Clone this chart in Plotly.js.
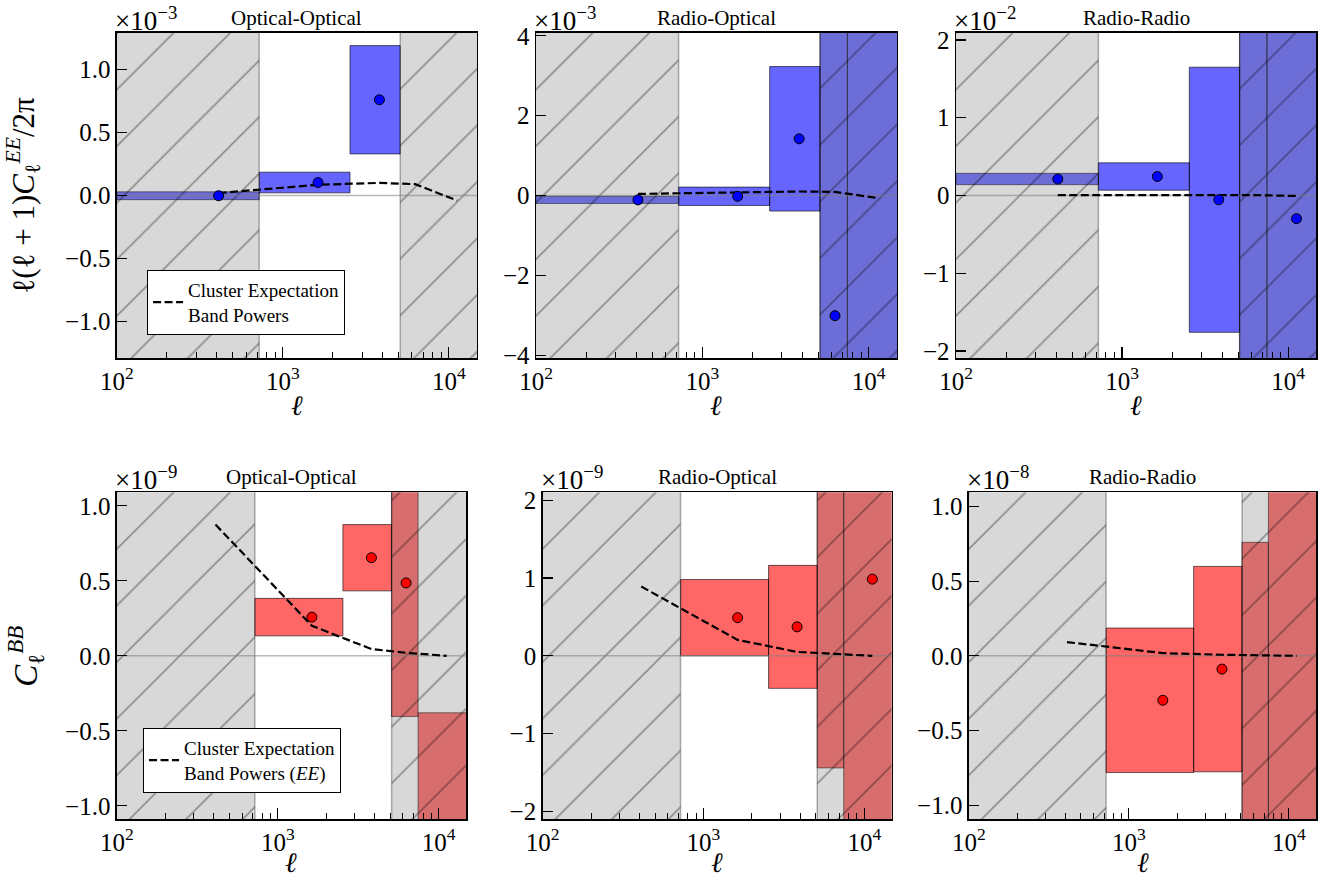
<!DOCTYPE html>
<html><head><meta charset="utf-8">
<script src="https://cdn.plot.ly/plotly-3.0.1.min.js"></script>
<style>body{margin:0;background:#fff}#chart{width:1338px;height:882px}</style>
</head><body><div id="chart"></div>
<script>
// ---- shared binning (multipole ell) ----
const binEdges   = [100, 720, 2540, 5100, 7450, 15000];
const binCenters = [410, 1630, 3820, 6275, 11225];
const lowCutRange  = [10, 720];      // excluded scales (hatched)
const highCutRange = [5100, 100000];
const xLimits = [100, 14800];

// ---- panel texts ----
const panelTitles = ['Optical-Optical', 'Radio-Optical', 'Radio-Radio', 'Optical-Optical', 'Radio-Optical', 'Radio-Radio'];
const offsetExponents = ['−3', '−3', '−2', '−9', '−9', '−8'];
const yLimits = [1.29, 4.07, 2.09, 1.09, 2.10, 1.095];
const yTickValues = [[-1, -0.5, 0, 0.5, 1], [-4, -2, 0, 2, 4], [-2, -1, 0, 1, 2], [-1, -0.5, 0, 0.5, 1], [-2, -1, 0, 1, 2], [-1, -0.5, 0, 0.5, 1]];
const yTickFormats = ['.1f', 'd', 'd', '.1f', 'd', '.1f'];
const xTickValues = [100, 1000, 10000];
const xTickLabels = ['10<sup>2</sup>', '10<sup>3</sup>', '10<sup>4</sup>'];
const xMinorTicks = [200, 300, 400, 500, 600, 700, 800, 900, 2000, 3000, 4000, 5000, 6000, 7000, 8000, 9000];

// ---- EE band powers, l(l+1)C/2pi (in units of the offset) ----
const eeOOValues = [-0.002, 0.103, 0.76, null, null];
const eeOOErrors = [0.031, 0.082, 0.43, null, null];
const eeOOExpect = [0.02, 0.085, 0.10, 0.09, -0.04];

const eeROValues = [-0.11, -0.02, 1.42, -3.01, -6.0];
const eeROErrors = [0.09, 0.23, 1.81, 8.5, 14.0];
const eeROExpect = [0.04, 0.08, 0.10, 0.09, -0.06];

const eeRRValues = [0.212, 0.244, -0.055, -2.6, -0.298];
const eeRRErrors = [0.073, 0.176, 1.705, 5.0, 3.5];
const eeRRExpect = [0.005, 0.004, 0.008, 0.005, -0.006];

// ---- BB band powers, C_l (in units of the offset) ----
const bbOOValues = [null, 0.258, 0.654, 0.486, -1.5];
const bbOOErrors = [null, 0.125, 0.221, 0.891, 1.12];
const bbOOExpect = [0.875, 0.20, 0.045, 0.02, 0.0];

const bbROValues = [null, 0.49, 0.372, 2.4, 0.985];
const bbROErrors = [null, 0.49, 0.79, 3.84, 3.5];
const bbROExpect = [0.89, 0.205, 0.05, 0.025, 0.0];

const bbRRValues = [null, -0.298, -0.089, -1.3, -1.4];
const bbRRErrors = [null, 0.484, 0.688, 2.06, 3.0];
const bbRRExpect = [0.092, 0.018, 0.007, 0.004, 0.0];

const panelValues = [eeOOValues, eeROValues, eeRRValues, bbOOValues, bbROValues, bbRRValues];
const panelErrors = [eeOOErrors, eeROErrors, eeRRErrors, bbOOErrors, bbROErrors, bbRRErrors];
const panelExpect = [eeOOExpect, eeROExpect, eeRRExpect, bbOOExpect, bbROExpect, bbRRExpect];

// ---- layout geometry ----
const xDomains = [[0.0874, 0.3565], [0.4006, 0.6704], [0.7145, 0.9839], [0.0874, 0.3483], [0.4056, 0.6664], [0.7242, 0.9836]];
const yDomains = [[0.5941, 0.9626], [0.5941, 0.9626], [0.5941, 0.9626], [0.0711, 0.4418], [0.0711, 0.4418], [0.0711, 0.4418]];

const FONT = '"Liberation Serif", "Times New Roman", serif';
const traces = [];
const annotations = [];
const layout = {
  width: 1338, height: 882,
  margin: {l: 0, r: 0, t: 0, b: 0},
  paper_bgcolor: '#fff', plot_bgcolor: 'rgba(0,0,0,0)',
  font: {family: FONT, color: '#000', size: 20},
  showlegend: true,
  legend: {x: 0.1099, y: 0.6939, xanchor: 'left', yanchor: 'top', bgcolor: '#fff', bordercolor: '#000', borderwidth: 1, font: {family: FONT, size: 19}},
  legend2: {x: 0.1069, y: 0.1746, xanchor: 'left', yanchor: 'top', bgcolor: '#fff', bordercolor: '#000', borderwidth: 1, font: {family: FONT, size: 19}},
  annotations: annotations
};

for (let p = 0; p < 6; p++) {
  const n = p + 1;
  const xa = 'x' + (n === 1 ? '' : n), ya = 'y' + (n === 1 ? '' : n);
  const isEE = p < 3;
  const lim = yLimits[p];
  // boxes
  const bx = [], by = [];
  panelValues[p].forEach((v, i) => {
    if (v === null) return;
    const e = panelErrors[p][i];
    const lo = binEdges[i], hi = binEdges[i + 1];
    bx.push(lo, hi, hi, lo, lo, null);
    by.push(v - e, v - e, v + e, v + e, v - e, null);
  });
  traces.push({x: bx, y: by, xaxis: xa, yaxis: ya, type: 'scatter', mode: 'lines', fill: 'toself',
    fillcolor: isEE ? 'rgba(0,0,255,0.6)' : 'rgba(255,0,0,0.6)', line: {color: 'rgba(0,0,0,0.6)', width: 1},
    showlegend: false, hoverinfo: 'skip'});
  // hatched excluded scales
  const big = lim * 10;
  const gx = [lowCutRange[0], lowCutRange[1], lowCutRange[1], lowCutRange[0], lowCutRange[0], null,
              highCutRange[0], highCutRange[1], highCutRange[1], highCutRange[0], highCutRange[0]];
  const gy = [-big, -big, big, big, -big, null, -big, -big, big, big, -big];
  traces.push({x: gx, y: gy, xaxis: xa, yaxis: ya, type: 'scatter', mode: 'lines', fill: 'toself',
    fillcolor: 'rgba(128,128,128,0.3)',
    fillpattern: {shape: '/', bgcolor: 'rgba(128,128,128,0.3)', fgcolor: '#000', fgopacity: 0.35, size: 40, solidity: 0.04},
    line: {color: 'rgba(0,0,0,0.3)', width: 1.5}, showlegend: false, hoverinfo: 'skip'});
  // zero line
  traces.push({x: [lowCutRange[0], highCutRange[1]], y: [0, 0], xaxis: xa, yaxis: ya, type: 'scatter', mode: 'lines',
    line: {color: 'rgba(128,128,128,0.55)', width: 1.6}, showlegend: false, hoverinfo: 'skip'});
  // cluster expectation
  const leg = (p === 0) ? 'legend' : (p === 3 ? 'legend2' : null);
  traces.push({x: binCenters, y: panelExpect[p], xaxis: xa, yaxis: ya, type: 'scatter', mode: 'lines',
    line: {color: '#000', width: 2.2, dash: '8px,3.5px'},
    name: p === 0 ? 'Cluster Expectation<br>Band Powers' : 'Cluster Expectation<br>Band Powers (<i>EE</i>)',
    showlegend: leg !== null, legend: leg || 'legend', hoverinfo: 'skip'});
  // band power points
  traces.push({x: binCenters, y: panelValues[p], xaxis: xa, yaxis: ya, type: 'scatter', mode: 'markers',
    marker: {size: 10, color: isEE ? '#0000ff' : '#ff0000', line: {color: '#000', width: 1}},
    showlegend: false, hoverinfo: 'skip'});

  layout['xaxis' + (n === 1 ? '' : n)] = {
    domain: xDomains[p], anchor: ya, type: 'log', range: [Math.log10(xLimits[0]), Math.log10(xLimits[1])],
    tickmode: 'array', tickvals: xTickValues, ticktext: xTickLabels,
    ticks: 'inside', ticklen: 11, tickwidth: 1.2, tickcolor: '#000',
    minor: {tickmode: 'array', tickvals: xMinorTicks, ticks: 'inside', ticklen: 6, tickwidth: 1, tickcolor: '#000', showgrid: false},
    showline: true, mirror: true, linecolor: '#000', linewidth: 1.5, showgrid: false, zeroline: false,
    tickfont: {family: FONT, size: 25}, fixedrange: true
  };
  layout['yaxis' + (n === 1 ? '' : n)] = {
    domain: yDomains[p], anchor: xa, range: [-lim, lim],
    tickmode: 'array', tickvals: yTickValues[p], tickformat: yTickFormats[p],
    ticks: 'inside', ticklen: 10, tickwidth: 1.2, tickcolor: '#000',
    showline: true, mirror: true, linecolor: '#000', linewidth: 1.5, showgrid: false, zeroline: false,
    tickfont: {family: FONT, size: 25}, fixedrange: true
  };
  // panel title
  annotations.push({xref: xa + ' domain', yref: ya + ' domain', x: 0.5, y: 1, xanchor: 'center', yanchor: 'bottom', yshift: 1,
    text: panelTitles[p], showarrow: false, font: {family: FONT, size: 21}});
  // offset multiplier
  annotations.push({xref: xa + ' domain', yref: ya + ' domain', x: 0, y: 1, xanchor: 'left', yanchor: 'bottom', xshift: -4, yshift: -5,
    text: '×10<sup>' + offsetExponents[p] + '</sup>', showarrow: false, font: {family: FONT, size: 27}});
  // x axis title
  annotations.push({xref: xa + ' domain', yref: ya + ' domain', x: 0.5, y: 0, xanchor: 'center', yanchor: 'top', yshift: p < 3 ? -30 : -26,
    text: '<i>ℓ</i>', showarrow: false, font: {family: FONT, size: 28}});
}
// y axis titles
annotations.push({xref: 'paper', yref: 'paper', x: 24 / 1338, y: (yDomains[0][0] + yDomains[0][1]) / 2, xanchor: 'center', yanchor: 'middle', textangle: -90,
  text: 'ℓ(ℓ + 1)<i>C</i><sub>ℓ</sub><sup><i>EE</i></sup>/2π', showarrow: false, font: {family: FONT, size: 31}});
annotations.push({xref: 'paper', yref: 'paper', x: 26 / 1338, y: (yDomains[3][0] + yDomains[3][1]) / 2, xanchor: 'center', yanchor: 'middle', textangle: -90,
  text: '<i>C</i><sub>ℓ</sub><sup><i>BB</i></sup>', showarrow: false, font: {family: FONT, size: 33}});

Plotly.newPlot('chart', traces, layout, {staticPlot: true});
</script></body></html>
